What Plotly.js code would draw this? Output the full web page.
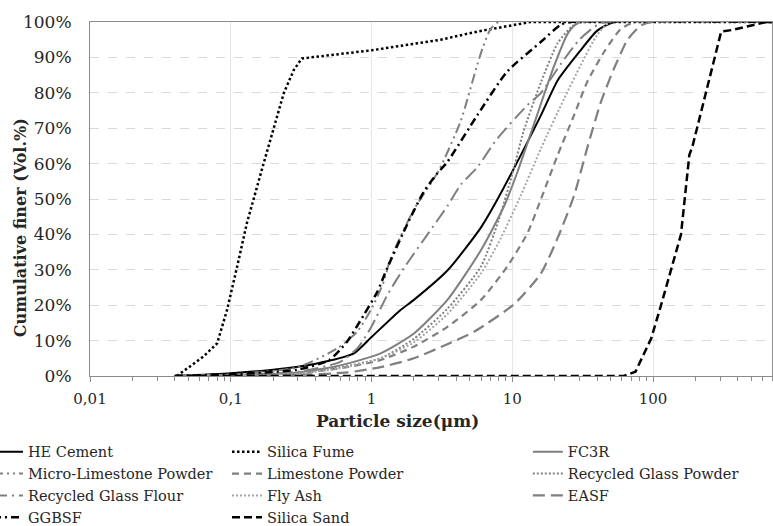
<!DOCTYPE html>
<html>
<head>
<meta charset="utf-8">
<script src="https://cdn.plot.ly/plotly-3.0.1.min.js"></script>
<style>html,body{margin:0;padding:0;background:#fff;}#chart{width:773px;height:526px;}</style>
</head>
<body>
<div id="chart"></div>
<script>
// ---- Data (particle size in µm, cumulative finer in Vol.%) ----
const heCementX = [0.04, 0.1, 0.2, 0.3, 0.5, 0.75, 1.0, 1.6, 2.0, 3.5, 6.0, 7.8, 11.5, 16, 21, 30, 40, 53, 700];
const heCementY = [0, 0.8, 1.8, 2.6, 4.3, 6.4, 11, 18.6, 21.5, 30, 42, 49.7, 62.4, 73.7, 83.5, 91.6, 97.5, 100, 100];

const silicaFumeX = [0.0414, 0.064, 0.08, 0.094, 0.111, 0.13, 0.171, 0.202, 0.238, 0.28, 0.32, 1.0, 3.1, 5.65, 8.3, 13.5, 700];
const silicaFumeY = [0, 5.5, 9.2, 18.6, 30.9, 43.1, 60, 70.4, 79.9, 86.4, 89.7, 92, 95, 97.3, 98.4, 100, 100];

const fc3rX = [0.04, 0.1, 0.3, 0.6, 1.16, 2.0, 3.46, 6.0, 8.7, 10.9, 15, 20, 25, 30, 700];
const fc3rY = [0, 0.3, 1, 3, 6.4, 12, 21.5, 35.6, 47.8, 57.7, 73.7, 88, 97, 100, 100];

const microLsX = [0.04, 0.1, 0.3, 0.57, 0.79, 1.0, 1.22, 1.36, 2.0, 3.0, 4.3, 5.65, 6.2, 7.0, 8.0, 700];
const microLsY = [0, 0.5, 2.5, 7.8, 12.5, 19, 26.6, 33, 47, 58, 72, 88, 93, 98, 100, 100];

const limestoneX = [0.04, 0.1, 0.3, 0.67, 1.16, 2.0, 3.46, 6.0, 9.2, 12.8, 16, 21, 27.5, 34, 45, 59, 75, 700];
const limestoneY = [0, 0.2, 0.8, 2.5, 4.5, 8.3, 13.9, 21.5, 30.9, 40.3, 50, 62.4, 73.7, 83, 91.6, 98, 100, 100];

const rgPowderX = [0.04, 0.1, 0.3, 0.6, 1.16, 2.0, 3.46, 6.0, 8.0, 10, 12, 16, 21, 27, 32, 700];
const rgPowderY = [0, 0.2, 0.8, 2.5, 5, 10.5, 19, 31, 44, 57, 69, 83, 94, 99, 100, 100];

const rgFlourX = [0.04, 0.1, 0.3, 0.6, 0.8, 1.0, 1.3, 1.7, 2.5, 3.46, 4.3, 5.65, 7.8, 12.8, 16, 22, 30, 43, 700];
const rgFlourY = [0, 0.3, 1.2, 4, 8, 14, 23, 30.5, 40, 48, 54, 59, 67, 76.5, 80, 88, 95, 99.7, 100];

const flyAshX = [0.04, 0.1, 0.3, 0.6, 1.16, 2.0, 3.46, 6.0, 8.3, 11.5, 16, 23.4, 30.7, 40, 50, 700];
const flyAshY = [0, 0.2, 0.7, 2.2, 5, 9.5, 17.5, 29, 39, 51, 64.3, 78.4, 87.9, 96.3, 100, 100];

const easfX = [0.04, 0.3, 0.67, 1.16, 2.0, 3.46, 5.35, 10.3, 16, 21, 27.5, 34, 42.7, 53, 66, 82, 100, 700];
const easfY = [0, 0.3, 1, 2.5, 5, 9, 12.5, 20.3, 29, 39, 51, 64.3, 77.5, 87, 95, 99, 100, 100];

const ggbsfX = [0.04, 0.1, 0.3, 0.5, 0.67, 0.88, 1.1, 1.29, 1.8, 2.35, 2.9, 3.46, 5.65, 9.2, 16, 22, 26, 700];
const ggbsfY = [0, 0.5, 1.8, 4.5, 9.7, 17.2, 23.8, 30.4, 43, 52, 57, 60.5, 73.7, 86, 94.4, 99.2, 100, 100];

const silicaSandX = [0.04, 62, 75, 97, 114, 142, 158, 181, 191, 305, 359, 637, 700];
const silicaSandY = [0, 0, 1.2, 10.6, 20, 33, 40, 62.4, 65, 97.3, 97.7, 100, 100];

const xTickVals = [0.01, 0.1, 1, 10, 100];
const xTickText = ['0,01', '0,1', '1', '10', '100'];

// ---- Styles ----
const BLACK = '#000000', GRAY = '#7f7f7f', LGRAY = '#a6a6a6';
function tr(name, x, y, color, width, dash, legend, shape) {
  return {type: 'scatter', mode: 'lines', name: name, x: x, y: y,
          line: {color: color, width: width, dash: dash, shape: shape || 'spline', smoothing: 0.6},
          legend: legend, hoverinfo: 'skip'};
}
const traces = [
  tr('HE Cement', heCementX, heCementY, BLACK, 2, 'solid', 'legend'),
  tr('Silica Fume', silicaFumeX, silicaFumeY, BLACK, 2.5, '2.5px,2.5px', 'legend2', 'linear'),
  tr('FC3R', fc3rX, fc3rY, GRAY, 2, 'solid', 'legend3'),
  tr('Micro-Limestone Powder', microLsX, microLsY, GRAY, 2, '10px,4px,2px,4px,2px,4px', 'legend'),
  tr('Limestone Powder', limestoneX, limestoneY, GRAY, 2.2, '7px,5px', 'legend2'),
  tr('Recycled Glass Powder', rgPowderX, rgPowderY, GRAY, 2, '2px,2px', 'legend3'),
  tr('Recycled Glass Flour', rgFlourX, rgFlourY, GRAY, 2, '14px,5px,2px,5px', 'legend'),
  tr('Fly Ash', flyAshX, flyAshY, LGRAY, 2, '2px,2px', 'legend2'),
  tr('EASF', easfX, easfY, GRAY, 2.2, '12px,6px', 'legend3'),
  tr('GGBSF', ggbsfX, ggbsfY, BLACK, 2.5, '8px,4px,2px,4px', 'legend'),
  tr('Silica Sand', silicaSandX, silicaSandY, BLACK, 2.5, '8px,4px', 'legend2', 'linear')
];

// minor tick positions (axis decoration only)
const minorVals = [];
for (let d = -2; d <= 2; d++) for (let m = 2; m <= 9; m++) { const v = m * Math.pow(10, d); if (v <= 700) minorVals.push(v); }

const FONT = 'DejaVu Serif';
const TXT = '#262626';
const legendBase = {xanchor: 'left', yanchor: 'top', y: -0.169, bgcolor: 'rgba(0,0,0,0)',
                    font: {family: FONT, size: 14.5, color: TXT}, tracegroupgap: 0, itemwidth: 30, orientation: 'v'};
const layout = {
  width: 773, height: 526,
  margin: {l: 90, r: 1, t: 22, b: 150, autoexpand: false},
  paper_bgcolor: '#ffffff', plot_bgcolor: '#ffffff',
  font: {family: FONT, size: 15, color: TXT},
  separators: ',.',
  xaxis: {
    type: 'log', range: [-2, Math.log10(700)],
    tickmode: 'array', tickvals: xTickVals, ticktext: xTickText,
    ticks: 'outside', ticklen: 5, tickcolor: '#8c8c8c', tickwidth: 1,
    showline: true, linecolor: '#8c8c8c', linewidth: 1, mirror: true,
    showgrid: true, gridcolor: '#e6e6e6', gridwidth: 1, zeroline: false,
    minor: {tickmode: 'array', tickvals: minorVals, ticks: 'outside', ticklen: 4, tickcolor: '#8c8c8c', showgrid: false},
    tickfont: {family: FONT, size: 15, color: TXT},
    ticklabelstandoff: 4
  },
  yaxis: {
    range: [0, 100], tickmode: 'linear', tick0: 0, dtick: 10, ticksuffix: '%',
    ticks: '', showline: true, linecolor: '#8c8c8c', linewidth: 1, mirror: true,
    showgrid: true, gridcolor: '#d9d9d9', griddash: 'dash', gridwidth: 1, zeroline: false,
    tickfont: {family: FONT, size: 17, color: TXT},
    ticklabelstandoff: 14
  },
  annotations: [
    {text: '<b>Particle size(μm)</b>', xref: 'paper', yref: 'paper', x: 0.4516, y: -0.127,
     xanchor: 'center', yanchor: 'middle', showarrow: false, font: {family: FONT, size: 17, color: TXT}},
    {text: '<b>Cumulative finer (Vol.%)</b>', xref: 'paper', yref: 'paper', x: -0.1026, y: 0.4177,
     xanchor: 'center', yanchor: 'middle', textangle: -90, showarrow: false, font: {family: FONT, size: 16, color: TXT}}
  ],
  legend: Object.assign({}, legendBase, {x: -0.1496}),
  legend2: Object.assign({}, legendBase, {x: 0.2009}),
  legend3: Object.assign({}, legendBase, {x: 0.642}),
  showlegend: true
};
Plotly.newPlot('chart', traces, layout, {staticPlot: true, displayModeBar: false});
</script>
</body>
</html>
